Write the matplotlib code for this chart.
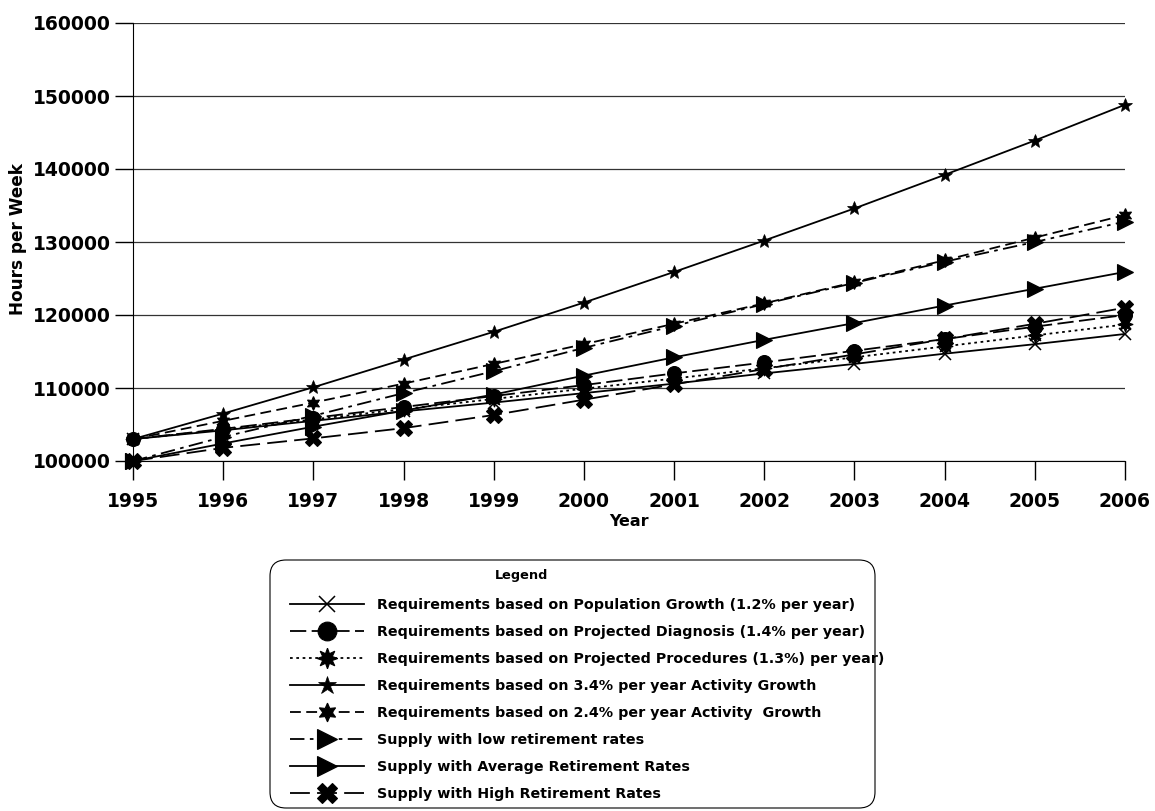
import matplotlib
matplotlib.use("Agg")
import matplotlib.pyplot as plt
from matplotlib.patches import FancyBboxPatch
from matplotlib.transforms import IdentityTransform

plt.rcParams['font.family'] = ['DejaVu Sans']
plt.rcParams['font.weight'] = 'bold'

years = list(range(1995, 2007))
pop = [103000, 104200, 105500, 106800, 108000, 109300, 110600, 112000, 113300, 114700, 116000, 117400]
diag = [103000, 104400, 105900, 107400, 108900, 110400, 112000, 113500, 115100, 116700, 118400, 120000]
proc = [103000, 104300, 105700, 107100, 108500, 109900, 111300, 112700, 114200, 115700, 117200, 118700]
act34 = [103000, 106500, 110100, 113900, 117700, 121700, 125900, 130200, 134600, 139200, 143900, 148800]
act24 = [103000, 105500, 108000, 110600, 113300, 116000, 118800, 121600, 124500, 127500, 130600, 133700]
low = [100000, 103300, 106200, 109300, 112300, 115500, 118500, 121500, 124400, 127300, 130000, 132800]
avg = [100000, 102400, 104700, 106900, 109100, 111700, 114200, 116600, 118900, 121300, 123600, 125900]
high = [100000, 101800, 103100, 104500, 106300, 108400, 110500, 112600, 114600, 116700, 118800, 121000]

labels = [
    "Requirements based on Population Growth (1.2% per year)",
    "Requirements based on Projected Diagnosis (1.4% per year)",
    "Requirements based on Projected Procedures (1.3%) per year)",
    "Requirements based on 3.4% per year Activity Growth",
    "Requirements based on 2.4% per year Activity  Growth",
    "Supply with low retirement rates",
    "Supply with Average Retirement Rates",
    "Supply with High Retirement Rates",
]
yticks = [100000, 110000, 120000, 130000, 140000, 150000, 160000]

W, H = 1155, 811
fig = plt.figure(figsize=(W / 100, H / 100), dpi=100)
ax = fig.add_axes([133 / W, 1 - 461 / H, (1125 - 133) / W, (461 - 23) / H])

styles = [
    (pop,   '-',               'x',        9,  1.1),
    (diag,  (0, (9, 3)),       'o',        10, 0.8),
    (proc,  (0, (1.5, 2.0)),   (8, 1, 0),  11, 0.8),
    (act34, '-',               '*',        10, 0.5),
    (act24, (0, (6, 3)),       (6, 1, 0),  10, 0.8),
    (low,   (0, (8, 3, 2, 3)), '>',        11, 0.8),
    (avg,   '-',               '>',        11, 0.8),
    (high,  (0, (11, 4)),      'X',        11, 0.8),
]
handles = []
for (vals, ls, mk, ms, mew), lab in zip(styles, labels):
    h, = ax.plot(years, vals, color='black', linestyle=ls, linewidth=1.3,
                 marker=mk, markersize=ms, markeredgewidth=mew,
                 markerfacecolor='black', markeredgecolor='black', label=lab,
                 clip_on=False, zorder=3)
    handles.append(h)

ax.set_xlim(1995, 2006)
ax.set_ylim(100000, 160000)
ax.set_xticks(years)
ax.set_yticks(yticks)
ax.tick_params(axis='both', labelsize=13.5, width=1, direction='out', color='black')
ax.tick_params(axis='y', length=13, pad=3)
ax.tick_params(axis='x', length=14, pad=8)
for lbl in ax.get_xticklabels() + ax.get_yticklabels():
    lbl.set_fontweight('bold')
ax.grid(axis='y', color='#333333', linewidth=0.9)
ax.set_axisbelow(True)
for s in ['top', 'right']:
    ax.spines[s].set_visible(False)
ax.set_xlabel('Year', fontsize=11.5, fontweight='bold')
ax.set_ylabel('Hours per Week', fontsize=12.2, fontweight='bold')
ax.xaxis.set_label_coords(0.5, (461 - 522) / 438)
ax.xaxis.label.set_va('center')
ax.yaxis.set_label_coords((18 - 133) / 992, 0.5 + 3 / 438)
ax.yaxis.label.set_va('center')

# legend frame (rounded box)
frame = FancyBboxPatch((270, H - 808), 605, 248, boxstyle='round,pad=0,rounding_size=16',
                       transform=IdentityTransform(), facecolor='white', edgecolor='black',
                       linewidth=0.8, zorder=0)
fig.patches.append(frame)
fig.text(522 / W, 1 - 575 / H, 'Legend', ha='center', va='center', fontsize=9.3, fontweight='bold')

leg = fig.legend(handles=handles, labels=labels, loc='upper left',
                 bbox_to_anchor=(290 / W, 1 - 598 / H), bbox_transform=fig.transFigure,
                 prop={'weight': 'bold', 'size': 10.3}, frameon=False,
                 handlelength=5.2, handletextpad=0.85, labelspacing=0.91,
                 borderpad=0, borderaxespad=0, markerscale=1.35)

fig.savefig('out.png', dpi=100)
